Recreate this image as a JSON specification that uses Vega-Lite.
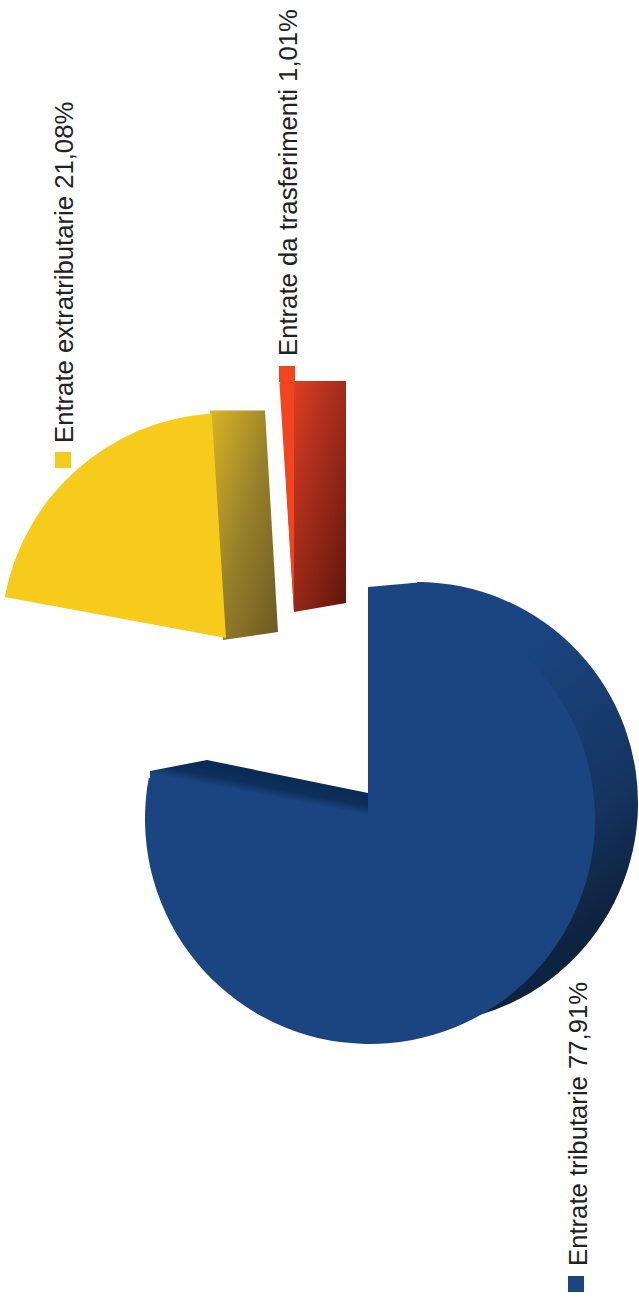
{"$schema":"https://vega.github.io/schema/vega-lite/v6.json","width":639,"height":1303,"padding":0,"autosize":{"type":"fit","contains":"padding"},"background":"white","view":{"stroke":null},
"config":{"axis":{"disable":true}},
"datasets":{
"blueSlice":[{"voce":"Entrate tributarie","start":0,"end":77.91,"cx":370,"cy":819}],
"yellowSlice":[{"voce":"Entrate extratributarie","start":77.91,"end":98.99,"cx":226,"cy":638}],
"redSlice":[{"voce":"Entrate da trasferimenti","start":98.99,"end":100,"cx":294,"cy":612}],
"labels":[{"voce":"Entrate tributarie","label":"Entrate tributarie 77,91%","tx":587,"ty":1266,"kx":576,"ky":1284},{"voce":"Entrate extratributarie","label":"Entrate extratributarie 21,08%","tx":73,"ty":443,"kx":63,"ky":460},{"voce":"Entrate da trasferimenti","label":"Entrate da trasferimenti 1,01%","tx":297,"ty":356,"kx":287,"ky":374}],
"blueBack":[{"start":0,"end":77.91,"cx":417,"cy":803}],
"blueTop":[{"x":368,"y":587,"y2":820},{"x":424,"y":582,"y2":820}],
"blueNotch":[{"x":150,"y":771,"y2":779},{"x":207,"y":760,"y2":790},{"x":368,"y":793,"y2":819}],
"yellowWall":[{"y":410.5,"x":210,"x2":265},{"y":632,"x":222.5,"x2":278},{"y":640,"x":223,"x2":223}],
"redWall":[{"y":381,"x":280,"x2":346},{"y":603,"x":293.5,"x2":346},{"y":612,"x":294,"x2":294}]
},
"layer":[
{"data":{"name":"blueBack"},"mark":{"type":"arc","outerRadius":221,"fill":{"gradient":"linear","x1":0.3,"y1":0,"x2":1,"y2":0.9,"stops":[{"offset":0,"color":"#1a4580"},{"offset":0.35,"color":"#1a4580"},{"offset":0.68,"color":"#153460"},{"offset":0.85,"color":"#0e2340"},{"offset":1,"color":"#0e2340"}]}},"encoding":{"x":{"field":"cx","type":"quantitative","scale":{"domain":[0,639]},"axis":null},"y":{"field":"cy","type":"quantitative","scale":{"domain":[0,1303],"reverse":true},"axis":null},"theta":{"field":"start","type":"quantitative","stack":null,"scale":{"domain":[0,100]}},"theta2":{"field":"end"}}},
{"data":{"name":"blueTop"},"mark":{"type":"area","orient":"vertical","fill":"#1a4580","opacity":1},"encoding":{"x":{"field":"x","type":"quantitative","scale":{"domain":[0,639]},"axis":null},"y":{"field":"y","type":"quantitative","stack":null,"scale":{"domain":[0,1303],"reverse":true},"axis":null},"y2":{"field":"y2"}}},
{"data":{"name":"yellowWall"},"mark":{"type":"area","orient":"horizontal","opacity":1,"fill":{"gradient":"linear","x1":0,"y1":0,"x2":1,"y2":1,"stops":[{"offset":0,"color":"#d9b526"},{"offset":0.5,"color":"#97802a"},{"offset":1,"color":"#6b5a22"}]}},"encoding":{"y":{"field":"y","type":"quantitative","scale":{"domain":[0,1303],"reverse":true},"axis":null},"x":{"field":"x","type":"quantitative","stack":null,"scale":{"domain":[0,639]},"axis":null},"x2":{"field":"x2"}}},
{"data":{"name":"redWall"},"mark":{"type":"area","orient":"horizontal","opacity":1,"fill":{"gradient":"linear","x1":0,"y1":0,"x2":1,"y2":1,"stops":[{"offset":0,"color":"#f0451f"},{"offset":0.35,"color":"#b8321f"},{"offset":1,"color":"#5e150c"}]}},"encoding":{"y":{"field":"y","type":"quantitative","scale":{"domain":[0,1303],"reverse":true},"axis":null},"x":{"field":"x","type":"quantitative","stack":null,"scale":{"domain":[0,639]},"axis":null},"x2":{"field":"x2"}}},
{"data":{"name":"blueSlice"},"mark":{"type":"arc","outerRadius":225,"fill":"#1a4580"},"encoding":{"x":{"field":"cx","type":"quantitative","scale":{"domain":[0,639]},"axis":null},"y":{"field":"cy","type":"quantitative","scale":{"domain":[0,1303],"reverse":true},"axis":null},"theta":{"field":"start","type":"quantitative","stack":null,"scale":{"domain":[0,100]}},"theta2":{"field":"end"}}},
{"data":{"name":"yellowSlice"},"mark":{"type":"arc","outerRadius":225,"fill":"#f7cb1b"},"encoding":{"x":{"field":"cx","type":"quantitative","scale":{"domain":[0,639]},"axis":null},"y":{"field":"cy","type":"quantitative","scale":{"domain":[0,1303],"reverse":true},"axis":null},"theta":{"field":"start","type":"quantitative","stack":null,"scale":{"domain":[0,100]}},"theta2":{"field":"end"}}},
{"data":{"name":"redSlice"},"mark":{"type":"arc","outerRadius":229,"fill":"#f0451f"},"encoding":{"x":{"field":"cx","type":"quantitative","scale":{"domain":[0,639]},"axis":null},"y":{"field":"cy","type":"quantitative","scale":{"domain":[0,1303],"reverse":true},"axis":null},"theta":{"field":"start","type":"quantitative","stack":null,"scale":{"domain":[0,100]}},"theta2":{"field":"end"}}},
{"data":{"name":"blueNotch"},"mark":{"type":"area","orient":"vertical","opacity":1,"fill":{"gradient":"linear","x1":1,"y1":0.56,"x2":0.79,"y2":0.855,"stops":[{"offset":0,"color":"#0b2a55"},{"offset":0.5,"color":"#0e2f5c"},{"offset":0.85,"color":"#1a4580"},{"offset":1,"color":"#1a4580"}]}},"encoding":{"x":{"field":"x","type":"quantitative","scale":{"domain":[0,639]},"axis":null},"y":{"field":"y","type":"quantitative","stack":null,"scale":{"domain":[0,1303],"reverse":true},"axis":null},"y2":{"field":"y2"}}},
{"data":{"name":"labels"},"mark":{"type":"point","shape":"square","filled":true,"size":256,"opacity":1},"encoding":{"x":{"field":"kx","type":"quantitative","scale":{"domain":[0,639]},"axis":null},"y":{"field":"ky","type":"quantitative","scale":{"domain":[0,1303],"reverse":true},"axis":null},"color":{"field":"voce","type":"nominal","legend":null,"scale":{"domain":["Entrate tributarie","Entrate extratributarie","Entrate da trasferimenti"],"range":["#1a4580","#f7cb1b","#f0451f"]}}}},
{"data":{"name":"labels"},"mark":{"type":"text","angle":270,"align":"left","baseline":"alphabetic","font":"Liberation Sans","fontSize":25.7,"fill":"#222222"},"encoding":{"x":{"field":"tx","type":"quantitative","scale":{"domain":[0,639]},"axis":null},"y":{"field":"ty","type":"quantitative","scale":{"domain":[0,1303],"reverse":true},"axis":null},"text":{"field":"label"}}}
]}
